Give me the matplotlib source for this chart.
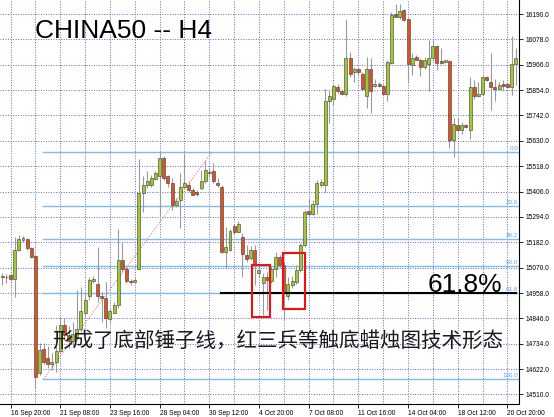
import matplotlib
matplotlib.use('Agg')
import matplotlib.pyplot as plt
from matplotlib.patches import Rectangle

# H4 OHLC, 125 bars
opens = [15027, 15029, 15036, 15022, 15150, 15190, 15197, 15157, 15122, 14605,
         14711, 14671, 14645, 14654, 14702, 14817, 14773, 14746, 14766, 14799,
         14870, 14943, 15011, 15000, 14943, 14934, 14843, 14872, 14905, 15104,
         15064, 15011, 15007, 15066, 15398, 15437, 15435, 15462, 15473, 15556,
         15473, 15444, 15345, 15369, 15428, 15435, 15413, 15404, 15420, 15451,
         15488, 15495, 15446, 15428, 15139, 15148, 15254, 15228, 15205, 15126,
         15113, 15148, 15047, 15002, 15027, 15013, 15066, 15117, 15082, 14945,
         14994, 15007, 15058, 15170, 15322, 15309, 15351, 15435, 15435, 15804,
         15817, 15870, 15850, 15839, 15998, 15932, 15949, 15927, 15826, 15949,
         15872, 15883, 15872, 15837, 15976, 16190, 16179, 16208, 16170, 15965,
         16000, 15989, 15956, 15971, 15994, 16049, 15983, 15978, 15983, 15632,
         15700, 15680, 15698, 15680, 15866, 15828, 15839, 15914, 15888, 15866,
         15861, 15881, 15881, 15866, 15971]
highs = [15047, 15042, 15042, 15206, 15214, 15210, 15203, 15161, 15126, 14738,
         14738, 14724, 14693, 14817, 14852, 14848, 14812, 14830, 14971, 14985,
         14963, 15029, 15033, 15161, 14963, 15007, 14892, 14919, 15241, 15183,
         15073, 15022, 15024, 15552, 15473, 15495, 15479, 15495, 15583, 15561,
         15479, 15466, 15378, 15486, 15574, 15451, 15422, 15413, 15501, 15539,
         15508, 15532, 15464, 15435, 15250, 15241, 15263, 15276, 15223, 15170,
         15166, 15170, 15082, 15047, 15051, 15077, 15139, 15126, 15095, 15029,
         15033, 15082, 15179, 15325, 15378, 15369, 15457, 15462, 15861, 15854,
         15883, 15881, 15857, 16170, 16024, 15958, 15958, 15936, 16002, 15998,
         15905, 15890, 15881, 15989, 16201, 16236, 16236, 16214, 16172, 16016,
         16009, 15994, 16000, 16075, 16077, 16053, 16038, 15987, 15987, 15733,
         15731, 15715, 15704, 15910, 15899, 15892, 15916, 15916, 16020, 15905,
         15892, 15899, 15892, 16093, 16038]
lows = [14994, 15002, 15011, 14941, 15144, 15183, 15148, 15113, 14537, 14596,
        14645, 14627, 14618, 14609, 14693, 14751, 14715, 14724, 14751, 14786,
        14857, 14927, 15002, 14919, 14830, 14804, 14830, 14870, 14892, 15051,
        15002, 14994, 15002, 15060, 15316, 15420, 15426, 15457, 15296, 15457,
        15428, 15325, 15338, 15245, 15422, 15406, 15391, 15387, 15413, 15444,
        15475, 15442, 15428, 15135, 15069, 15144, 15219, 15223, 15029, 15095,
        15104, 14994, 15029, 14861, 14883, 15002, 15029, 15069, 14839, 14927,
        14980, 14998, 15051, 15161, 15296, 15303, 15307, 15426, 15406, 15707,
        15788, 15841, 15832, 15830, 15914, 15888, 15921, 15854, 15773, 15751,
        15868, 15868, 15832, 15804, 15971, 16177, 16170, 16161, 15892, 15921,
        15987, 15916, 15949, 15848, 15987, 15943, 15971, 15974, 15598, 15559,
        15673, 15662, 15687, 15636, 15817, 15824, 15837, 15896, 15768, 15804,
        15854, 15848, 15863, 15832, 15877]
closes = [15033, 15031, 15020, 15150, 15197, 15199, 15155, 15119, 14587, 14707,
          14654, 14645, 14654, 14702, 14817, 14773, 14746, 14777, 14797, 14879,
          14927, 15016, 15022, 14943, 14934, 14846, 14877, 14907, 15104, 15064,
          15011, 15005, 15016, 15398, 15437, 15453, 15464, 15486, 15556, 15464,
          15446, 15345, 15364, 15428, 15446, 15413, 15393, 15395, 15453, 15501,
          15492, 15451, 15437, 15141, 15161, 15232, 15228, 15261, 15130, 15108,
          15148, 15082, 15060, 15027, 15016, 15066, 15117, 15082, 14958, 15000,
          15009, 15058, 15168, 15314, 15307, 15353, 15444, 15448, 15804, 15828,
          15872, 15848, 15839, 15998, 15925, 15949, 15932, 15861, 15949, 15852,
          15883, 15872, 15837, 15980, 16186, 16179, 16205, 16164, 15969, 15994,
          15989, 15956, 15989, 15994, 16049, 15976, 15976, 15985, 15632, 15704,
          15680, 15698, 15689, 15866, 15826, 15839, 15914, 15899, 15866, 15857,
          15877, 15874, 15866, 15971, 15998]

price_ticks = [16190, 16078, 15966, 15854, 15742, 15630, 15518, 15406,
               15294, 15182, 15070, 14958, 14846, 14734, 14622, 14510]
date_pos = [2, 14, 26, 38, 50, 62, 74, 86, 98, 110, 122]
date_labels = ['16 Sep 20:00', '21 Sep 08:00', '23 Sep 16:00', '28 Sep 04:00',
               '30 Sep 12:00', '4 Oct 20:00', '7 Oct 08:00', '11 Oct 16:00',
               '14 Oct 04:00', '18 Oct 12:00', '20 Oct 20:00']
grid_x = [2, 8, 14, 20, 26, 32, 38, 44, 50, 56, 62, 68, 74, 80, 86, 92,
          98, 104, 110, 116, 122]

# fibonacci retracement drawn on the chart
fib_levels = [0.0, 23.6, 38.2, 50.0, 61.8, 100.0]
fib_high = 15579
fib_low = 14577
fib_from_bar = 9.9
fib_to_bar = 50.6

# hand drawn objects
line_618 = (52.8, 124.1, 14958)
boxes = [(60.4, 64.65, 14850, 15080), (67.85, 73.07, 14887, 15133)]

UP = '#A2C830'
DOWN = '#DD5222'
GRID = '#6565CC'
FIB = '#7DBBF3'

fig = plt.figure(figsize=(5.54, 4.17), dpi=100)
ax = fig.add_axes([0, 13 / 417, 519 / 554, 404 / 417])
ax.set_xlim(-0.556, 124.81)
ax.set_ylim(14468, 16252)

for p in price_ticks:
    ax.axhline(p, color=GRID, lw=0.7, ls=(0, (1, 1.6)), zorder=1)
for gx in grid_x:
    ax.axvline(gx, color=GRID, lw=0.7, ls=(0, (1, 1.6)), zorder=1)

# fibo lines
for lvl in fib_levels:
    p = fib_high - (fib_high - fib_low) * lvl / 100
    ax.plot([fib_from_bar, 124.81], [p, p], color=FIB, lw=1.0, zorder=2)
    ax.text(124.6, p + 4, f'{lvl:.1f}', color='#5EA6EE', fontsize=4.5,
            ha='right', va='bottom', family='Liberation Sans', zorder=6)
ax.plot([fib_from_bar, fib_to_bar], [fib_low, fib_high], color='#F07878',
        lw=0.8, ls=(0, (1, 1.5)), zorder=2)

# candles
for i in range(len(opens)):
    o, h, l, c = opens[i], highs[i], lows[i], closes[i]
    ax.vlines(i, l, h, color='#9A9A9A', lw=0.8, zorder=3)
    col = UP if c >= o else DOWN
    ax.add_patch(Rectangle((i - 0.36, min(o, c)), 0.72, max(abs(c - o), 1.5),
                           facecolor=col, edgecolor='#3A3A3A', lw=0.4, zorder=4))

ax.plot(line_618[:2], [line_618[2], line_618[2]], color='black', lw=1.5, zorder=5)
for x0, x1, y0, y1 in boxes:
    ax.add_patch(Rectangle((x0, y0), x1 - x0, y1 - y0, fill=False,
                           edgecolor='#F01010', lw=1.5, zorder=5))

for s in ['left', 'top']:
    ax.spines[s].set_visible(False)
for s in ['right', 'bottom']:
    ax.spines[s].set_color('black')
    ax.spines[s].set_linewidth(0.8)

ax.yaxis.tick_right()
ax.set_yticks(price_ticks)
ax.set_yticklabels([f'{p:.1f}' for p in price_ticks], family='Liberation Sans')
ax.set_xticks(date_pos)
ax.set_xticklabels(date_labels, ha='left', family='Liberation Sans')
ax.tick_params(axis='y', length=3, width=0.6, pad=1.5, labelsize=4.8)
ax.tick_params(axis='x', length=3, width=0.6, pad=1.2, labelsize=4.8)

fig.text(35 / 554, 1 - 38 / 417, 'CHINA50 -- H4', fontsize=19,
         family='Liberation Sans', va='baseline', ha='left')
fig.text(428 / 554, 1 - 292 / 417, '61.8%', fontsize=19,
         family='Liberation Sans', va='baseline', ha='left', zorder=7)
fig.text(52 / 554, 1 - 341 / 417, '形成了底部锤子线，红三兵等触底蜡烛图技术形态',
         fontsize=14.8, family=['Noto Sans CJK SC', 'DejaVu Sans'],
         va='center', ha='left', color='#1A1A1A', zorder=7)

fig.savefig('out.png', dpi=100)
